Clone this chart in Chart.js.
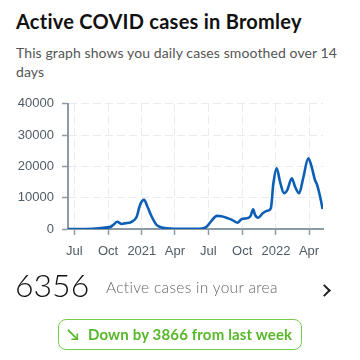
<!DOCTYPE html>
<html>
<head>
<meta charset="utf-8">
<script src="https://cdn.jsdelivr.net/npm/chart.js@4"></script>
<style>
  html, body { margin: 0; padding: 0; background: #fff; }
  body { width: 360px; height: 360px; position: relative; overflow: hidden; font-family: Lato, "Noto Sans", sans-serif; }
  h1 { position: absolute; left: 16px; top: 9px; margin: 0; font-size: 20px; font-weight: 700; color: #111; letter-spacing: 0.25px; }
  .sub { position: absolute; left: 16px; top: 43px; margin: 0; font-size: 14px; line-height: 19px; color: #555; letter-spacing: 0.1px; }
  .chart { position: absolute; left: 0; top: 88px; width: 360px; height: 178px; }
  .count { position: absolute; left: 15px; top: 265px; font-size: 32px; font-weight: 300; color: #111; }
  .label { position: absolute; left: 106px; top: 278px; font-size: 15.5px; font-weight: 300; color: #666; letter-spacing: 0.3px; }
  .chev { position: absolute; left: 320px; top: 286px; width: 7px; height: 7px; border-top: 2px solid #222; border-right: 2px solid #222; transform: rotate(45deg); }
  .pill { position: absolute; left: 58px; top: 319px; width: 244px; height: 31px; border: 1.5px solid #78cc4c; border-radius: 8px; box-sizing: border-box; color: #56b82a; font-size: 15px; font-weight: 700; line-height: 28px; }
  .pill span.arrow { position: absolute; left: 8px; top: 0; font-size: 16px; }
  .pill span.txt { position: absolute; left: 29px; top: 0; letter-spacing: 0.15px; }
</style>
</head>
<body>
<h1>Active COVID cases in Bromley</h1>
<p class="sub">This graph shows you daily cases smoothed over 14<br>days</p>
<div class="chart"><canvas id="casesChart"></canvas></div>
<div class="count">6356</div>
<div class="label">Active cases in your area</div>
<div class="chev"></div>
<div class="pill"><span class="arrow">&#x2198;</span><span class="txt">Down by 3866 from last week</span></div>
<script>
// smoothed daily active cases
const dates = [
  '2020-06-14', '2020-08-21', '2020-09-18', '2020-10-06', '2020-10-15', '2020-10-26',
  '2020-11-07', '2020-11-16', '2020-12-04', '2020-12-18', '2020-12-27', '2021-01-07',
  '2021-01-16', '2021-01-28', '2021-02-10', '2021-02-28', '2021-03-28', '2021-04-15',
  '2021-06-08', '2021-06-26', '2021-07-10', '2021-07-24', '2021-08-06', '2021-08-24',
  '2021-09-07', '2021-09-18', '2021-09-30', '2021-10-13', '2021-10-24', '2021-10-31',
  '2021-11-05', '2021-11-14', '2021-11-26', '2021-12-08', '2021-12-18', '2021-12-25',
  '2022-01-03', '2022-01-12', '2022-01-23', '2022-02-01', '2022-02-13', '2022-02-22',
  '2022-03-05', '2022-03-16', '2022-03-30', '2022-04-08', '2022-04-17', '2022-04-23',
  '2022-05-01', '2022-05-08'
];
const activeCases = [
  0, 100, 400, 600, 1300, 2300,
  1600, 1800, 2300, 3900, 7700, 9300,
  7200, 3900, 1300, 400, 100, 50,
  100, 700, 2700, 4200, 4100, 3400,
  2700, 2000, 3200, 3400, 4200, 6300,
  4500, 3600, 5000, 5800, 6600, 14600,
  19400, 15100, 11400, 12500, 16200, 13500,
  11400, 16200, 22600, 19900, 15700, 14100,
  10400, 6356
];
const tickDates = ['2020-07-01', '2020-10-01', '2021-01-01', '2021-04-01', '2021-07-01', '2021-10-01', '2022-01-01', '2022-04-01'];
const tickLabels = ['Jul', 'Oct', '2021', 'Apr', 'Jul', 'Oct', '2022', 'Apr'];
const yTicks = [0, 10000, 20000, 30000, 40000];
const rangeStart = '2020-06-14';
const rangeEnd = '2022-05-09';

const DAY = 86400000;
const origin = Date.parse('2020-07-01');
const toDay = d => (Date.parse(d) - origin) / DAY;

const axisColor = '#8c9aa6';
const gridColor = '#e9ecef';
const tickFont = { family: '"Liberation Sans", Arial, sans-serif', size: 13 };

const ctx = document.getElementById('casesChart').getContext('2d');
new Chart(ctx, {
  type: 'line',
  data: {
    datasets: [{
      data: dates.map((d, i) => ({ x: toDay(d), y: activeCases[i] })),
      borderColor: '#0c5fb5',
      borderWidth: 2.6,
      pointRadius: 0,
      tension: 0.4,
      cubicInterpolationMode: 'monotone',
      fill: false
    }]
  },
  options: {
    responsive: true,
    maintainAspectRatio: false,
    animation: false,
    layout: { padding: { top: 14, right: 37, bottom: 0, left: 0 } },
    plugins: { legend: { display: false }, tooltip: { enabled: false } },
    scales: {
      x: {
        type: 'linear',
        min: toDay(rangeStart),
        max: toDay(rangeEnd),
        afterBuildTicks: scale => { scale.ticks = tickDates.map(d => ({ value: toDay(d) })); },
        afterFit: scale => { scale.height = 37; },
        ticks: {
          color: '#4f5b66',
          font: tickFont,
          padding: 9,
          maxRotation: 0,
          autoSkip: false,
          callback: (value, index) => tickLabels[index]
        },
        grid: { color: gridColor, lineWidth: 1, tickColor: axisColor, tickLength: 6, tickWidth: 1.5 },
        border: { display: true, color: axisColor, width: 2, dash: [8, 4] }
      },
      y: {
        min: 0,
        max: 40000,
        afterBuildTicks: scale => { scale.ticks = yTicks.map(v => ({ value: v })); },
        afterFit: scale => { scale.width = 68; },
        ticks: {
          color: '#4f5b66',
          font: tickFont,
          padding: 8,
          callback: value => String(value)
        },
        grid: { color: gridColor, lineWidth: 1, tickColor: axisColor, tickLength: 6, tickWidth: 1.5 },
        border: { display: true, color: axisColor, width: 2, dash: [8, 4] }
      }
    }
  }
});
</script>
</body>
</html>
